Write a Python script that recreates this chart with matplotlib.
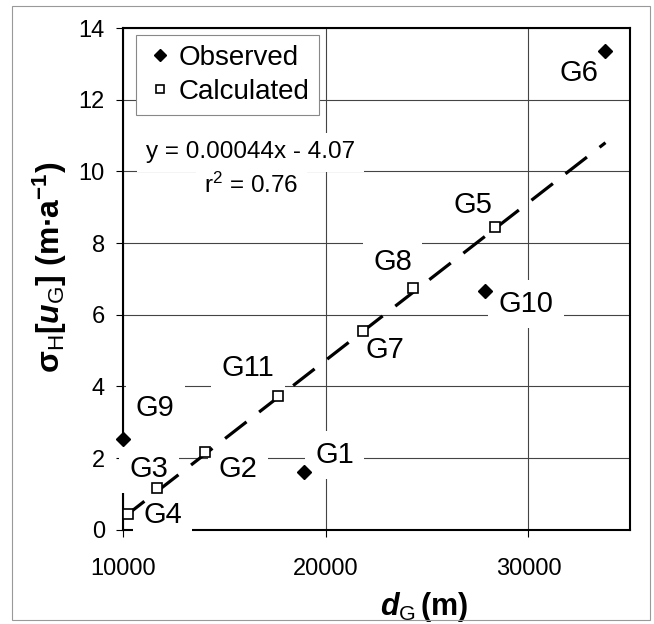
import numpy as np
import matplotlib
matplotlib.use("Agg")
import matplotlib.pyplot as plt
from matplotlib.patches import Rectangle

plt.rcParams['font.family'] = ['Liberation Sans', 'DejaVu Sans']
plt.rcParams['mathtext.fontset'] = 'custom'
plt.rcParams['mathtext.rm'] = 'Liberation Sans'
plt.rcParams['mathtext.it'] = 'Liberation Sans:italic'
plt.rcParams['mathtext.bf'] = 'Liberation Sans:bold'
plt.rcParams['mathtext.bfit'] = 'Liberation Sans:bold:italic'

# observed sites
obs_names = ['G1', 'G6', 'G9', 'G10']
obs_d = [18930, 33800, 10000, 27840]
obs_s = [1.61, 13.36, 2.53, 6.65]

# calculated sites
calc_names = ['G2', 'G3', 'G4', 'G5', 'G7', 'G8', 'G11']
calc_d = [14060, 11690, 10250, 28330, 21840, 24330, 17630]
calc_s = [2.16, 1.16, 0.44, 8.46, 5.55, 6.74, 3.72]

# trend line coefficients
slope = 0.00044
intercept = -4.07
r2 = 0.76

# label anchor positions (data coords)
label_pos = {
    'G1': (20450, 2.08), 'G2': (15670, 1.70), 'G3': (11280, 1.70),
    'G4': (11960, 0.40), 'G5': (27260, 9.07), 'G6': (32470, 12.75),
    'G7': (22930, 5.02), 'G8': (23300, 7.46), 'G9': (11590, 3.41),
    'G10': (29880, 6.30), 'G11': (16165, 4.52),
}

fig = plt.figure(figsize=(6.54, 6.24), dpi=100)
ax = fig.add_axes([0.188, 0.151, 0.775, 0.804])

ax.set_xlim(10000, 35000)
ax.set_ylim(0, 14)
ax.set_xticks([10000, 20000, 30000])
ax.set_yticks(np.arange(0, 15, 2))
ax.grid(True, color='#444444', lw=0.8, zorder=0)
ax.set_axisbelow(True)

for sp in ax.spines.values():
    sp.set_linewidth(1.5)
    sp.set_color('black')
ax.tick_params(direction='out', length=5, width=0.8, labelsize=17)
ax.tick_params(axis='x', pad=15)
ax.tick_params(axis='y', pad=8)

# regression line over the full data range
all_d = np.array(obs_d + calc_d)
tx = np.array([all_d.min(), all_d.max()])
ax.plot(tx, slope * tx + intercept, color='black', lw=2.3,
        dashes=(8.5, 5), zorder=3.5)

ax.plot(obs_d, obs_s, linestyle='none', marker='D', ms=7,
        color='black', label='Observed', zorder=4, clip_on=False)
ax.plot(calc_d, calc_s, linestyle='none', marker='s', ms=7.8,
        mfc='white', mec='black', mew=1.2, label='Calculated', zorder=4,
        clip_on=False)

box = dict(facecolor='white', edgecolor='none', boxstyle='square,pad=0.35')
for name, (lx, ly) in label_pos.items():
    ax.text(lx, ly, name, fontsize=21, ha='center', va='center', zorder=3,
            bbox=box)

ax.text(16290, 10.54, 'y = 0.00044x - 4.07', fontsize=17.5, ha='center',
        va='center', zorder=3, bbox=box)
ax.text(16330, 9.62, r'r$^{2}$ = %.2f' % r2, fontsize=17.5, ha='center',
        va='center', zorder=3, bbox=box)

leg = ax.legend(loc='upper left', bbox_to_anchor=(0.026, 0.986),
                fontsize=20, handlelength=1.0, handletextpad=0.18,
                borderpad=0.35, labelspacing=0.3, fancybox=False,
                framealpha=1, borderaxespad=0)
leg.get_frame().set_edgecolor('#888888')
leg.get_frame().set_linewidth(0.8)
for h in leg.legend_handles:
    h.set_markersize(6)

ax.set_xlabel(r'$\mathbfit{d}_{\mathrm{G}}\,\mathbf{(m)}$', fontsize=22)
ax.xaxis.set_label_coords(0.594, -0.12)
ax.set_ylabel(r'$\mathbf{\sigma}_{\mathrm{H}}\mathbf{[}\mathbfit{u}_{\mathrm{G}}'
              r'\mathbf{]\ (m{\bullet}a}^{\mathbf{-1}}\mathbf{)}$', fontsize=23)
ax.yaxis.set_label_coords(-0.107, 0.522)

# thin outer chart border
fig.patches.append(Rectangle((0.019, 0.006), 0.975, 0.985,
                             transform=fig.transFigure, fill=False,
                             edgecolor='#999999', lw=0.8))

fig.savefig('out.png', dpi=100)
